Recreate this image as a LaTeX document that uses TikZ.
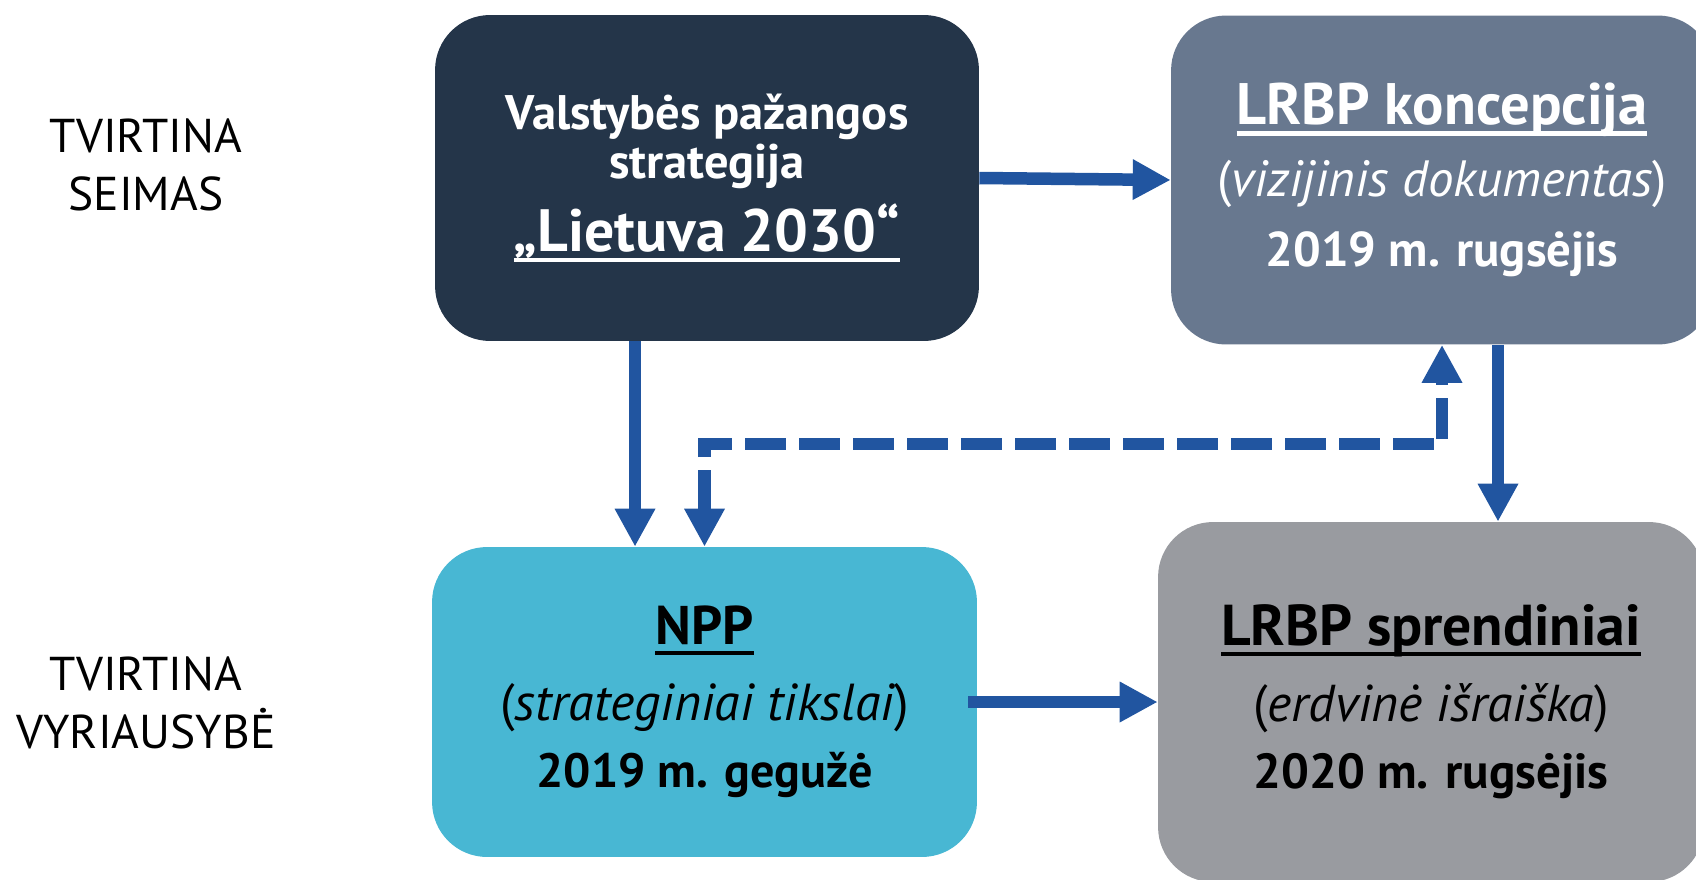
\documentclass[tikz,border=0pt]{standalone}
\usepackage{fontspec}
\setmainfont{PT Sans}
\usetikzlibrary{arrows.meta}
\definecolor{navy}{RGB}{36,53,73}
\definecolor{slate}{RGB}{104,120,143}
\definecolor{aqua}{RGB}{72,183,211}
\definecolor{stone}{RGB}{153,155,160}
\definecolor{arrowblue}{RGB}{33,85,160}
\newsavebox\ulbox
\newcommand\ulined[1]{\sbox\ulbox{#1}\rlap{\rule[-6pt]{\wd\ulbox}{2.3pt}}\usebox\ulbox}
\tikzset{
  box/.style={rectangle, rounded corners=1.1cm, inner sep=0pt, align=center},
  side/.style={align=center, inner sep=0pt, font={\fontsize{27pt}{33pt}\selectfont}},
  arr/.style={draw=arrowblue, line width=0.25cm, -{Triangle[width=0.76cm,length=0.76cm]}},
  dasharr/.style={arr, {Triangle[width=0.76cm,length=0.76cm]}-{Triangle[width=0.76cm,length=0.76cm]},
    dash pattern=on 0.82cm off 0.26cm}
}
\begin{document}
\begin{tikzpicture}[x=0.02cm, y=-0.02cm]
    \useasboundingbox (0,0) rectangle (1696,879);
    \clip (0,0) rectangle (1696,879);
    % left column
    \node (seimas) at (146,165) [side] {TVIRTINA\\SEIMAS};
    \node (vyriausybe) at (146,703) [side] {TVIRTINA\\VYRIAUSYBĖ};
    % boxes
    \node (strategija) at (707,178) [box, fill=navy, text=white,
      minimum width=10.88cm, minimum height=6.52cm,
      font={\bfseries\fontsize{27.6pt}{27.6pt}\selectfont\lineskiplimit=-100pt}]
      {Valstybės pažangos\\strategija\\[13.8pt]{\fontsize{34pt}{34pt}\selectfont\ulined{„Lietuva 2030“}}};
    \node (koncepcija) at (1442,180) [box, fill=slate, text=white,
      minimum width=10.84cm, minimum height=6.58cm,
      font={\fontsize{27.8pt}{39.7pt}\selectfont}]
      {{\bfseries\fontsize{33.3pt}{33pt}\selectfont\ulined{LRBP koncepcija}}\\[1pt]
       {\fontsize{29pt}{29pt}\selectfont({\itshape vizijinis dokumentas})}\\{\bfseries 2019 m. rugsėjis}};
    \node (npp) at (704.5,702) [box, fill=aqua, text=black,
      minimum width=10.9cm, minimum height=6.2cm,
      font={\fontsize{27.4pt}{39.7pt}\selectfont}]
      {{\bfseries\fontsize{31pt}{31pt}\selectfont\ulined{NPP}}\\[3.2pt]
       {\fontsize{29.6pt}{29pt}\selectfont({\itshape strateginiai tikslai})}\\[-1.2pt]{\bfseries 2019 m. gegužė}};
    \node (sprendiniai) at (1431,702) [box, fill=stone, text=black,
      minimum width=10.92cm, minimum height=7.2cm,
      font={\fontsize{28pt}{39.7pt}\selectfont}]
      {{\bfseries\fontsize{32.8pt}{33pt}\selectfont\ulined{LRBP sprendiniai}}\\[3.2pt]
       {\fontsize{29.5pt}{29pt}\selectfont({\itshape erdvinė išraiška})}\\[-1.2pt]{\bfseries 2020 m. rugsėjis}};
    % arrows
    \draw[arr] (strategija.east) -- (koncepcija.west);
    \draw[arr] ([xshift=-1.44cm]strategija.south) -- ([xshift=-1.44cm]strategija.south |- npp.north);
    \draw[arr] ([xshift=1.12cm]koncepcija.south) -- ([xshift=1.12cm]koncepcija.south |- sprendiniai.north);
    \draw[arr] ([xshift=-0.18cm]npp.east) -- (sprendiniai.west);
    \coordinate (bend) at (1000,444);
    \draw[dasharr] (npp.north) |- (bend) -| (koncepcija.south);
\end{tikzpicture}
\end{document}
